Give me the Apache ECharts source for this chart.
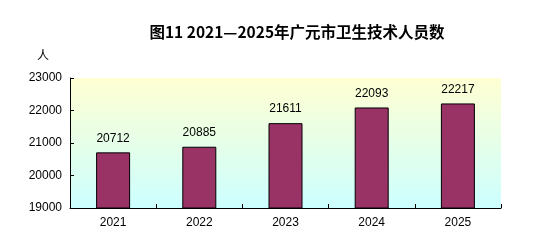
<!DOCTYPE html>
<html><head><meta charset="utf-8">
<script src="https://cdn.jsdelivr.net/npm/echarts@6/dist/echarts.min.js"></script>
<style>html,body{margin:0;padding:0;background:#fff}#c{width:556px;height:252px}</style>
</head><body><div id="c"></div>
<script>
var years = ['2021','2022','2023','2024','2025'];
var workers = [20712, 20885, 21611, 22093, 22217];
var yTicks = [19000, 20000, 21000, 22000, 23000];
var titleText = '图11 2021—2025年广元市卫生技术人员数';
var unitText = '人';

var chart = echarts.init(document.getElementById('c'));
chart.setOption({
  animation: false,
  title: {
    text: titleText, left: 292, top: 19, textAlign: 'center',
    textStyle: {fontFamily: 'Noto Sans CJK SC', fontSize: 15.5, fontWeight: 'bold', color: '#000'}
  },
  grid: {
    left: 70, right: 55, top: 78, bottom: 44, show: true, borderWidth: 0,
    backgroundColor: {type: 'linear', x: 0, y: 0, x2: 0, y2: 1,
      colorStops: [{offset: 0, color: '#FFFFD2'}, {offset: 1, color: '#CCFFFF'}]}
  },
  xAxis: {
    type: 'category', data: years, boundaryGap: true,
    axisLine: {lineStyle: {color: '#000', width: 1}},
    axisTick: {show: true, inside: true, length: 4, lineStyle: {color: '#000'}},
    axisLabel: {color: '#000', fontFamily: 'Liberation Sans', fontSize: 12, margin: 9}
  },
  yAxis: {
    type: 'value', min: yTicks[0], max: yTicks[yTicks.length-1], interval: 1000,
    name: unitText, nameLocation: 'end', nameGap: 17,
    nameTextStyle: {color: '#000', fontFamily: 'Noto Sans CJK SC', fontSize: 12, align: 'right', padding: [0, 21, 0, 0]},
    axisLine: {show: true, lineStyle: {color: '#000', width: 1}},
    axisTick: {show: true, inside: true, length: 4, lineStyle: {color: '#000'}},
    splitLine: {show: false},
    axisLabel: {color: '#000', fontFamily: 'Liberation Sans', fontSize: 12, margin: 8,
      formatter: function (v) { return String(v); }}
  },
  series: [{
    type: 'bar', data: workers, barWidth: 34,
    itemStyle: {color: '#993366', borderColor: '#000', borderWidth: 1},
    label: {show: true, position: 'top', distance: 8, color: '#000', fontFamily: 'Liberation Sans', fontSize: 12}
  }]
});
</script></body></html>
